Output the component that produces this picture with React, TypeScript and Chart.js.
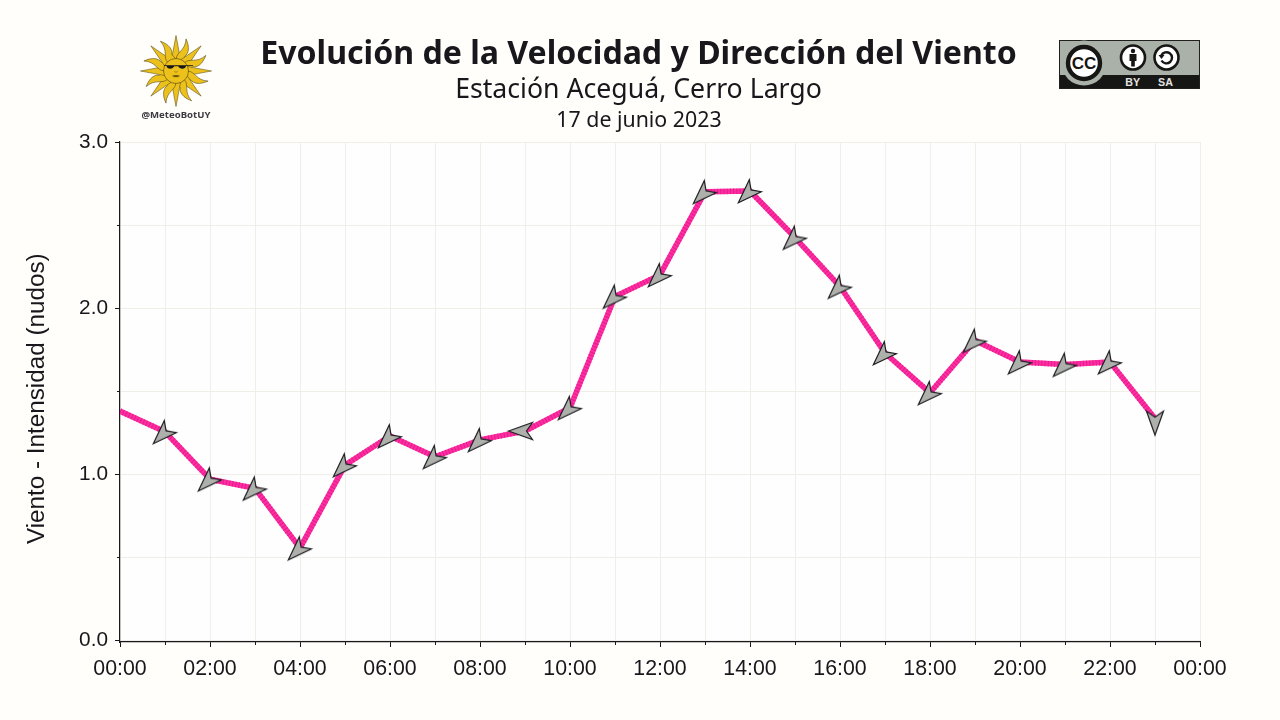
import React, { useEffect, useRef } from "react";
import { Chart, registerables } from "chart.js";

Chart.register(...registerables);

const hours = [0,1,2,3,4,5,6,7,8,9,10,11,12,13,14,15,16,17,18,19,20,21,22,23];
const windSpeed = [1.38,1.255,0.97,0.915,0.555,1.055,1.23,1.105,1.207,1.26,1.40,2.07,2.20,2.70,2.705,2.425,2.13,1.73,1.49,1.805,1.675,1.66,1.675,1.335];
const windArrowRotation = [0,45,45,45,45,45,45,45,45,90,45,45,45,45,45,45,45,45,45,45,45,45,45,0];
const hasArrow = [false,true,true,true,true,true,true,true,true,true,true,true,true,true,true,true,true,true,true,true,true,true,true,true];
const xTicks = [0,1,2,3,4,5,6,7,8,9,10,11,12,13,14,15,16,17,18,19,20,21,22,23,24];
const yTicks = [0,0.5,1,1.5,2,2.5,3];
const mainTitle = "Evolución de la Velocidad y Dirección del Viento";
const subTitle = "Estación Aceguá, Cerro Largo";
const dateTitle = "17 de junio 2023";
const yAxisTitle = "Viento - Intensidad (nudos)  ";

const INK = "#17171c";
const points = hours.map((h, i) => ({ x: h, y: windSpeed[i] }));

function makeArrow(deg: number): HTMLCanvasElement {
  const c = document.createElement("canvas");
  c.width = 48;
  c.height = 48;
  const g = c.getContext("2d")!;
  g.translate(24, 24);
  g.rotate((deg * Math.PI) / 180);
  g.beginPath();
  g.moveTo(0, 16.5);
  g.lineTo(-8.5, -7.5);
  g.lineTo(0, -1.5);
  g.lineTo(8.5, -7.5);
  g.closePath();
  g.fillStyle = "#aeb0ab";
  g.fill();
  g.strokeStyle = "#1e1e22";
  g.lineWidth = 1.2;
  g.lineJoin = "miter";
  g.stroke();
  return c;
}

const decorPlugin = {
  id: "decor",
  beforeDraw(chart: any) {
    const { ctx, chartArea: a } = chart;
    ctx.save();
    ctx.fillStyle = "#fffeff";
    ctx.fillRect(a.left, a.top, a.right - a.left, a.bottom - a.top);
    ctx.restore();
  },
  afterDraw(chart: any) {
    const { ctx, scales } = chart;
    ctx.save();
    ctx.strokeStyle = INK;
    ctx.lineWidth = 1;
    ctx.beginPath();
    xTicks.filter((t) => t % 2 === 1).forEach((t) => {
      const px = Math.round(scales.x.getPixelForValue(t)) + 0.5;
      ctx.moveTo(px, scales.x.top);
      ctx.lineTo(px, scales.x.top + 3);
    });
    yTicks.filter((t) => t % 1 !== 0).forEach((t) => {
      const py = Math.round(scales.y.getPixelForValue(t)) + 0.5;
      ctx.moveTo(scales.y.right, py);
      ctx.lineTo(scales.y.right - 3, py);
    });
    ctx.stroke();
    ctx.restore();
  },
};

function Sun() {
  const rays = [];
  for (let i = 0; i < 16; i++) {
    const a = i * 22.5;
    if (i % 2 === 0) {
      rays.push(
        <path key={i} transform={`rotate(${a})`} d="M-4.6,-11 L0,-35.5 L4.6,-11 Z" fill="#ecc11c" stroke="#4a3f10" strokeWidth="0.5" />
      );
    } else {
      rays.push(
        <path key={i} transform={`rotate(${a})`} d="M-4.4,-11 C-7,-18 1,-22 -3,-33.5 C4,-27 5,-21 2.5,-17 C3.5,-14 4,-12 4.4,-11 Z" fill="#ecc11c" stroke="#4a3f10" strokeWidth="0.5" />
      );
    }
  }
  return (
    <svg style={{ position: "absolute", left: 136, top: 31, width: 80, height: 80 }} viewBox="-40 -40 80 80">
      {rays}
      <circle r="12.5" fill="#ecc11c" stroke="#4a3f10" strokeWidth="0.6" />
      <path d="M-12,-5.8 H17 V-5 H10 C9.5,-1.5 3.5,-1.5 2.2,-4.8 H-1.8 C-3,-1.5 -9,-1.5 -9.5,-5 H-12 Z" fill="#15151a" />
      <path d="M-4,4.8 Q0,3.2 4,4.8 Q0,7.8 -4,4.8 Z" fill="#6d5608" />
      <path d="M-1.5,0.5 Q0,2 1.5,0.5" fill="none" stroke="#6d5608" strokeWidth="0.6" />
    </svg>
  );
}

function CcBadge() {
  return (
    <svg style={{ position: "absolute", left: 1059, top: 40, width: 141, height: 49 }} viewBox="0 0 141 49">
      <rect x="0" y="0" width="141" height="49" fill="#aab1a9" />
      <rect x="0" y="35" width="141" height="14" fill="#161614" />
      <rect x="0.5" y="0.5" width="140" height="48" fill="none" stroke="#20201e" />
      <circle cx="25" cy="23" r="22.5" fill="#aab1a9" />
      <circle cx="25" cy="23" r="16" fill="#fff" stroke="#161614" strokeWidth="4.4" />
      <text x="25" y="29" textAnchor="middle" fontFamily="'Liberation Sans'" fontWeight="700" fontSize="17" fill="#161614">CC</text>
      <circle cx="74" cy="17.5" r="12" fill="#fff" stroke="#161614" strokeWidth="2.6" />
      <circle cx="74" cy="11" r="2.2" fill="#161614" />
      <path d="M70.5,14 H77.5 V21 H75.8 V26.5 H72.2 V21 H70.5 Z" fill="#161614" />
      <circle cx="107.5" cy="17.5" r="12" fill="#fff" stroke="#161614" strokeWidth="2.6" />
      <path d="M102.3,15.5 A5.6,5.6 0 1 1 102.5,20.5" fill="none" stroke="#161614" strokeWidth="2.4" />
      <path d="M99.5,15 L105.5,15 L102.5,19 Z" fill="#161614" />
      <text x="73.7" y="46" textAnchor="middle" fontFamily="'Liberation Sans'" fontWeight="700" fontSize="10.7" fill="#e4e4e2">BY</text>
      <text x="106.5" y="46" textAnchor="middle" fontFamily="'Liberation Sans'" fontWeight="700" fontSize="10.7" fill="#e4e4e2">SA</text>
    </svg>
  );
}

const centered = (top: number, size: number, weight: number, left = 238): React.CSSProperties => ({
  position: "absolute",
  left,
  width: 800,
  top,
  textAlign: "center",
  fontFamily: "'Noto Sans'",
  fontSize: size,
  fontWeight: weight,
  lineHeight: `${Math.round(size * 1.3)}px`,
  color: INK,
  whiteSpace: "nowrap",
});

export default function App() {
  const ref = useRef<HTMLCanvasElement | null>(null);
  useEffect(() => {
    const chart = new Chart(ref.current!, {
      type: "line",
      data: {
        datasets: [
          {
            label: "Dirección",
            data: points,
            showLine: false,
            pointStyle: windArrowRotation.map((d) => makeArrow(d)),
            pointRadius: hasArrow.map((v) => (v ? 4 : 0)),
            order: 0,
          },
          {
            label: "Rayas",
            data: points,
            borderColor: "#ea1890",
            borderWidth: 5.5,
            borderDash: [1, 2.2],
            borderCapStyle: "butt",
            borderJoinStyle: "round",
            pointRadius: 0,
            order: 1,
          },
          {
            label: "Velocidad",
            data: points,
            borderColor: "#fb2f9f",
            borderWidth: 5.5,
            borderCapStyle: "butt",
            borderJoinStyle: "round",
            pointRadius: 0,
            order: 2,
          },
        ],
      } as any,
      options: {
        animation: false,
        responsive: false,
        layout: { autoPadding: false, padding: { top: 142, right: 80, left: 0, bottom: 0 } },
        plugins: { legend: { display: false }, tooltip: { enabled: false } },
        scales: {
          x: {
            type: "linear",
            min: 0,
            max: 24,
            afterBuildTicks: (s: any) => { s.ticks = xTicks.map((value) => ({ value })); },
            afterFit: (s: any) => { s.height = 78; },
            ticks: {
              autoSkip: false,
              maxRotation: 0,
              minRotation: 0,
              padding: 9,
              color: INK,
              font: { family: "'Liberation Sans'", size: 21.33 },
              callback: (v: any) => (Number(v) % 2 === 0 ? `${String(Number(v) % 24).padStart(2, "0")}:00` : ""),
            },
            grid: {
              color: "#efefe8",
              lineWidth: 1,
              tickLength: 5,
              tickColor: (c: any) => (c.tick && c.tick.value % 2 === 0 ? INK : "rgba(0,0,0,0)"),
            },
            border: { color: INK, width: 1.2 },
          },
          y: {
            type: "linear",
            min: -0.01,
            max: 3,
            afterBuildTicks: (s: any) => { s.ticks = yTicks.map((value) => ({ value })); },
            afterFit: (s: any) => { s.width = 120; },
            title: {
              display: true,
              text: yAxisTitle,
              color: INK,
              font: { family: "'Liberation Sans'", size: 24.25 },
              padding: { top: 23, bottom: 0 },
            },
            ticks: {
              autoSkip: false,
              padding: 7,
              color: INK,
              font: { family: "'Liberation Sans'", size: 20.8 },
              callback: (v: any) => (Number(v) % 1 === 0 ? Number(v).toFixed(1) : ""),
            },
            grid: {
              color: "#efefe8",
              lineWidth: 1,
              tickLength: 5,
              tickColor: (c: any) => (c.tick && c.tick.value % 1 === 0 ? INK : "rgba(0,0,0,0)"),
            },
            border: { color: INK, width: 1.2 },
          },
        },
      } as any,
      plugins: [decorPlugin],
    });
    return () => chart.destroy();
  }, []);

  return (
    <div style={{ position: "fixed", left: 0, top: 0, width: 1280, height: 720, background: "#fffefa", overflow: "hidden" }}>
      <canvas ref={ref} width={1280} height={720} style={{ position: "absolute", left: 0, top: 0, width: 1280, height: 720 }} />
      <div style={centered(31, 32.1, 700, 238.5)}>{mainTitle}</div>
      <div style={centered(70, 26.67, 400, 238.5)}>{subTitle}</div>
      <div style={centered(105, 21.33, 400, 239)}>{dateTitle}</div>
      <Sun />
      <div style={{ position: "absolute", left: 116, width: 120, top: 108, textAlign: "center", fontFamily: "'Noto Sans'", fontWeight: 700, fontSize: 9.6, lineHeight: "14px", color: "#3a3a40" }}>@MeteoBotUY</div>
      <CcBadge />
    </div>
  );
}
